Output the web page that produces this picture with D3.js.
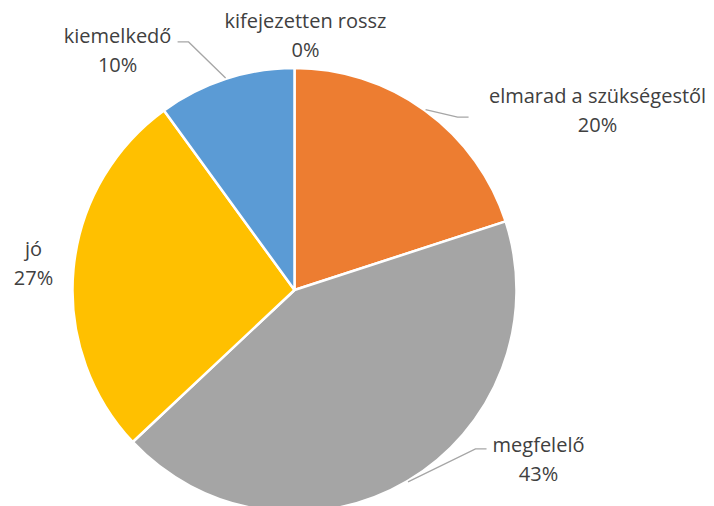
<!DOCTYPE html>
<html>
<head>
<meta charset="utf-8">
<script src="https://cdn.jsdelivr.net/npm/d3@7"></script>
<style>
  html, body { margin: 0; padding: 0; background: #fff; }
  svg { display: block; }
</style>
</head>
<body>
<svg id="chart" width="714" height="506"></svg>
<script>
// Értékelési kategóriák és megoszlásuk (%)
const categories = ["kifejezetten rossz", "elmarad a szükségestől", "megfelelő", "jó", "kiemelkedő"];
const values = [0, 20, 43, 27, 10];
const colors = ["#4472C4", "#ED7D31", "#A5A5A5", "#FFC000", "#5B9BD5"];

// Címke elhelyezés: eltolás a szelet külső szélén lévő ponttól (szöveg közepe, első alapvonal),
// valamint a vezetővonal vége (null = nincs vezetővonal)
const labelOffsets = [[11, -39], [172, -6.5], [130.5, -30], [-39, -13], [-108, -35]];
const leaderEnds = [null, [43, 7.5], [78.5, -33], null, [-48, -36]];

const width = 714, height = 506;
const cx = 294.5, cy = 290, radius = 222;

const svg = d3.select("#chart");
const g = svg.append("g").attr("transform", `translate(${cx},${cy})`);

const data = categories.map((c, i) => ({ name: c, value: values[i], color: colors[i], i }));

const pie = d3.pie().sort(null).value(d => d.value);
const arcs = pie(data);
const arc = d3.arc().innerRadius(0).outerRadius(radius);

g.selectAll("path.slice")
  .data(arcs)
  .join("path")
  .attr("class", "slice")
  .attr("d", arc)
  .attr("fill", d => d.data.color)
  .attr("stroke", "#fff")
  .attr("stroke-width", 2.5)
  .attr("stroke-linejoin", "round");

// Pont a szelet ívén, a középszögnél
function edgePoint(d, r) {
  const a = (d.startAngle + d.endAngle) / 2;
  return [r * Math.sin(a), -r * Math.cos(a)];
}

// Vezetővonalak
arcs.forEach((d, i) => {
  const end = leaderEnds[i];
  if (!end) return;
  const p0 = edgePoint(d, radius + 1);
  const p2 = [p0[0] + end[0], p0[1] + end[1]];
  const dir = end[0] > 0 ? -1 : 1;
  const p1 = [p2[0] + dir * 11, p2[1]];
  g.append("polyline")
    .attr("points", [p0, p1, p2].map(p => p.join(",")).join(" "))
    .attr("fill", "none")
    .attr("stroke", "#A6A6A6")
    .attr("stroke-width", 1.3);
});

// Adatfeliratok: kategória + százalék
const fmt = v => `${Math.round(v)}%`;
arcs.forEach((d, i) => {
  const p0 = edgePoint(d, radius + 1);
  const off = labelOffsets[i];
  const x = p0[0] + off[0], y = p0[1] + off[1];
  const t = g.append("text")
    .attr("text-anchor", "middle")
    .attr("font-family", "'Open Sans', 'Noto Sans', sans-serif")
    .attr("font-size", 20)
    .attr("fill", "#404040");
  t.append("tspan").attr("x", x).attr("y", y).text(d.data.name);
  t.append("tspan").attr("x", x).attr("y", y + 29).text(fmt(d.data.value));
});
</script>
</body>
</html>
